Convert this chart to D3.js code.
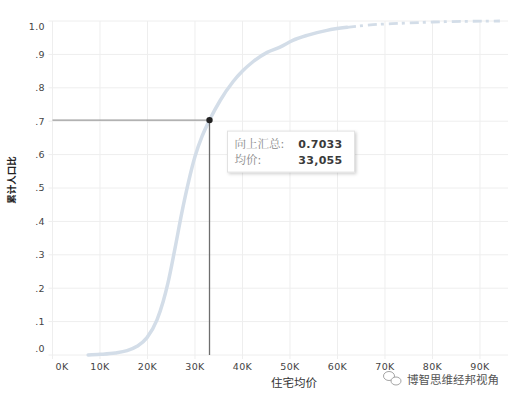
<!DOCTYPE html>
<html><head><meta charset="utf-8">
<script src="https://cdn.jsdelivr.net/npm/d3@7"></script>
<style>body{margin:0;background:#fff;}svg{display:block;}</style>
</head><body>
<script>
// Data
const priceK = [7.5, 10, 13.2, 15.7, 17.8, 19.9, 22, 23.3, 24.3, 25.8, 27.2, 28.7, 30, 31.5, 33.055, 35.3, 38, 40, 42.2, 45.2, 47.9, 50.6, 53.6, 57.8, 62, 67.5, 73.2, 80.2, 87, 94.2];
const cumShare = [0, 0.002, 0.006, 0.013, 0.026, 0.052, 0.105, 0.160, 0.215, 0.320, 0.424, 0.522, 0.594, 0.655, 0.7033, 0.762, 0.818, 0.850, 0.878, 0.906, 0.922, 0.942, 0.957, 0.972, 0.981, 0.989, 0.993, 0.997, 0.999, 1.0];
const xTicks = [0, 10, 20, 30, 40, 50, 60, 70, 80, 90];
const xTickLabels = ["0K","10K","20K","30K","40K","50K","60K","70K","80K","90K"];
const yTicks = [0, 0.1, 0.2, 0.3, 0.4, 0.5, 0.6, 0.7, 0.8, 0.9, 1.0];
const yTickLabels = [".0",".1",".2",".3",".4",".5",".6",".7",".8",".9","1.0"];
const marker = {x: 33.055, y: 0.7033};
const tipLabels = ["向上汇总:", "均价:"];
const tipValues = ["0.7033", "33,055"];
const xTitle = "住宅均价";
const yTitle = "累计人口比";
const watermark = "博智思维经邦视角";

const W = 519, H = 400;
const L = 52.5, R = 508, T = 21, B = 355;
const svg = d3.select("body").append("svg").attr("width", W).attr("height", H);
const x = d3.scaleLinear().domain([0, 95.9]).range([L, R]);
const y = d3.scaleLinear().domain([0, 1]).range([B, T]);

// grid
const g = svg.append("g");
g.selectAll(".vg").data(xTicks).join("line")
  .attr("x1", d => x(d)).attr("x2", d => x(d)).attr("y1", T).attr("y2", B + 4)
  .attr("stroke", "#eeeeee").attr("stroke-width", 1);
g.selectAll(".hg").data(yTicks).join("line")
  .attr("x1", L - 4).attr("x2", R).attr("y1", d => y(d)).attr("y2", d => y(d))
  .attr("stroke", "#eeeeee").attr("stroke-width", 1);

// y tick labels
const tickFont = "DejaVu Sans, Verdana, sans-serif";
svg.selectAll(".yl").data(yTicks).join("text")
  .attr("x", 45)
  .attr("y", (d, i) => i === 10 ? y(d) + 6 : (i === 0 ? y(d) - 6 : y(d)))
  .attr("dy", "0.35em").attr("text-anchor", "end")
  .attr("font-family", tickFont).attr("font-size", 9.5).attr("letter-spacing", 0.4)
  .attr("fill", "#444").text((d, i) => yTickLabels[i]);

// x tick labels
svg.selectAll(".xl").data(xTicks).join("text")
  .attr("x", (d, i) => i === 0 ? x(d) + 9.5 : x(d))
  .attr("y", 370).attr("text-anchor", "middle")
  .attr("font-family", tickFont).attr("font-size", 9.5).attr("letter-spacing", 0.4)
  .attr("fill", "#444").text((d, i) => xTickLabels[i]);

// curve
const pts = priceK.map((p, i) => [p, cumShare[i]]);
const line = d3.line().x(d => x(d[0])).y(d => y(d[1])).curve(d3.curveMonotoneX);
const splitIdx = priceK.indexOf(62);
svg.append("path").datum(pts.slice(0, splitIdx + 1)).attr("d", line)
  .attr("fill", "none").attr("stroke", "#d3dde8").attr("stroke-width", 3.5)
  .attr("stroke-linecap", "round");
svg.append("path").datum(pts.slice(splitIdx)).attr("d", line)
  .attr("fill", "none").attr("stroke", "#d3dde8").attr("stroke-width", 2.8)
  .attr("stroke-dasharray", "9,4,3,5");

// reference lines
svg.append("line").attr("x1", L).attr("x2", x(marker.x)).attr("y1", y(marker.y)).attr("y2", y(marker.y))
  .attr("stroke", "#9a9a9a").attr("stroke-width", 1.3);
svg.append("line").attr("x1", x(marker.x)).attr("x2", x(marker.x)).attr("y1", y(marker.y)).attr("y2", B)
  .attr("stroke", "#6e6e6e").attr("stroke-width", 1.3);
svg.append("circle").attr("cx", x(marker.x)).attr("cy", y(marker.y)).attr("r", 3.2).attr("fill", "#222");

// tooltip
const defs = svg.append("defs");
const f = defs.append("filter").attr("id", "sh").attr("x", "-10%").attr("y", "-20%").attr("width", "130%").attr("height", "160%");
f.append("feDropShadow").attr("dx", 1.5).attr("dy", 1.5).attr("stdDeviation", 1.5).attr("flood-color", "#000").attr("flood-opacity", 0.18);
const tx = x(marker.x) + 18, ty = y(marker.y) + 11;
svg.append("rect").attr("x", tx).attr("y", ty).attr("width", 127).attr("height", 41)
  .attr("fill", "#fff").attr("stroke", "#e2e2e2").attr("filter", "url(#sh)");
tipLabels.forEach((t, i) => {
  svg.append("text").attr("x", tx + 7).attr("y", ty + 13 + i * 16).attr("dy", "0.35em")
    .attr("font-family", "Noto Serif CJK SC, Noto Sans CJK SC, serif").attr("font-size", 11.5)
    .attr("fill", "#8a8a8a").text(t);
  svg.append("text").attr("x", tx + 115).attr("y", ty + 13 + i * 16).attr("dy", "0.35em")
    .attr("text-anchor", "end").attr("font-family", tickFont).attr("font-size", 11)
    .attr("font-weight", "bold").attr("letter-spacing", 0.3)
    .attr("fill", "#3a3a3a").text(tipValues[i]);
});

// axis titles
svg.append("text").attr("x", 294).attr("y", 387).attr("text-anchor", "middle")
  .attr("font-family", "Noto Sans CJK SC, sans-serif").attr("font-size", 11.5)
  .attr("fill", "#333").text(xTitle);
svg.append("text").attr("transform", "translate(12,180) rotate(-90)").attr("dy", "0.35em")
  .attr("text-anchor", "middle").attr("font-family", "Noto Sans CJK SC, sans-serif")
  .attr("font-size", 9.5).attr("font-weight", "bold").attr("fill", "#222").text(yTitle);

// watermark
const wm = svg.append("g").attr("fill", "none").attr("stroke", "#9a9a9a").attr("stroke-width", 0.9);
wm.append("ellipse").attr("cx", 389).attr("cy", 376).attr("rx", 5.5).attr("ry", 4.5);
wm.append("ellipse").attr("cx", 396).attr("cy", 381).attr("rx", 5).attr("ry", 4).attr("fill", "#fff");
svg.append("text").attr("x", 407).attr("y", 379.5).attr("dy", "0.35em")
  .attr("font-family", "Noto Sans CJK SC, sans-serif").attr("font-size", 11.5)
  .attr("fill", "#555").text(watermark);
</script>
</body></html>
